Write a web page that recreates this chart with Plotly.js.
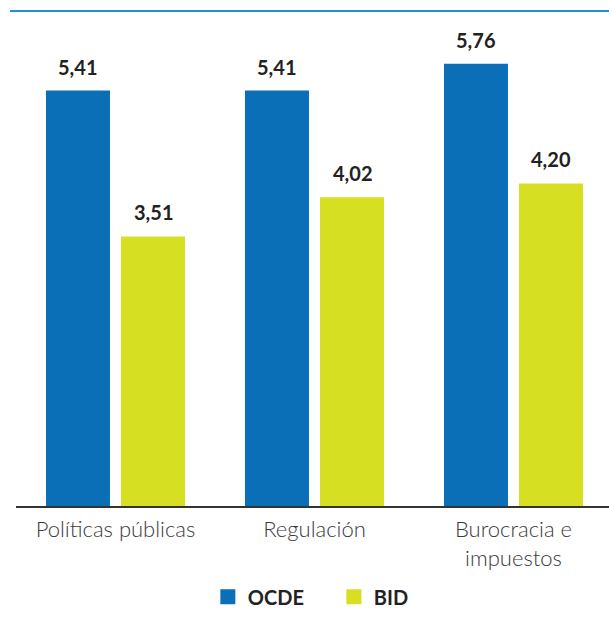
<!DOCTYPE html>
<html><head><meta charset="utf-8">
<script src="https://cdn.plot.ly/plotly-3.0.1.min.js"></script>
<style>body{margin:0;background:#fff}#chart{width:609px;height:623px}</style>
</head><body><div id="chart"></div>
<script>
const categories = ["Políticas públicas", "Regulación", "Burocracia e<br>impuestos"];
const ocdeValues = [5.41, 5.41, 5.76];
const bidValues = [3.51, 4.02, 4.20];
const seriesNames = ["OCDE", "BID"];
const seriesColors = ['#0b6fb8', '#d6df22'];
const fmt = v => v.toFixed(2).replace('.', ',');

const labelFont = {family: "Lato, 'Open Sans', sans-serif", size: 20, color: "#222", weight: 700};
const traces = [
  {type: 'bar', name: seriesNames[0], x: categories, y: ocdeValues,
   marker: {color: seriesColors[0]}, hoverinfo: 'none', showlegend: false},
  {type: 'bar', name: seriesNames[1], x: categories, y: bidValues,
   marker: {color: seriesColors[1]}, hoverinfo: 'none', showlegend: false}
];
seriesNames.forEach((n, s) => traces.push({type: 'scatter', mode: 'markers', name: n,
  x: [null], y: [null], marker: {symbol: 'square', size: 15, color: seriesColors[s]},
  hoverinfo: 'none'}));
const offsets = [-0.1885, 0.1885];
const annotations = [];
[ocdeValues, bidValues].forEach((vals, s) => {
  vals.forEach((v, i) => {
    annotations.push({xref: 'x', yref: 'y', x: i + offsets[s], y: v, text: fmt(v),
      showarrow: false, yanchor: 'bottom', yshift: 10, font: labelFont});
  });
});
const layout = {
  width: 609, height: 623,
  margin: {l: 16, r: 0, t: 40, b: 117},
  paper_bgcolor: '#fff', plot_bgcolor: '#fff',
  barmode: 'group', bargap: 0.246, bargroupgap: 0.147,
  xaxis: {type: 'category', range: [-0.5, 2.48], showline: true, linecolor: '#333', linewidth: 2,
    ticks: '', ticklabelstandoff: 3,
    tickfont: {family: "Lato, 'Open Sans', sans-serif", size: 22, color: '#3a3a3a', weight: 300}},
  yaxis: {range: [0, 6.068], visible: false, showgrid: false, zeroline: false},
  showlegend: true,
  legend: {orientation: 'h', x: 0.536, xanchor: 'center', y: -0.195, yanchor: 'middle',
    font: {family: "Lato, 'Open Sans', sans-serif", size: 20, color: '#222', weight: 700},
    itemwidth: 30, tracegroupgap: 0, entrywidthmode: 'pixels', entrywidth: 81},
  annotations: annotations,
  shapes: [{type: 'line', xref: 'paper', yref: 'paper', x0: -0.01, x1: 1.0, y0: 1.0622, y1: 1.0622,
    line: {color: '#1e90d8', width: 2}}]
};
Plotly.newPlot('chart', traces, layout, {staticPlot: true});
</script></body></html>
